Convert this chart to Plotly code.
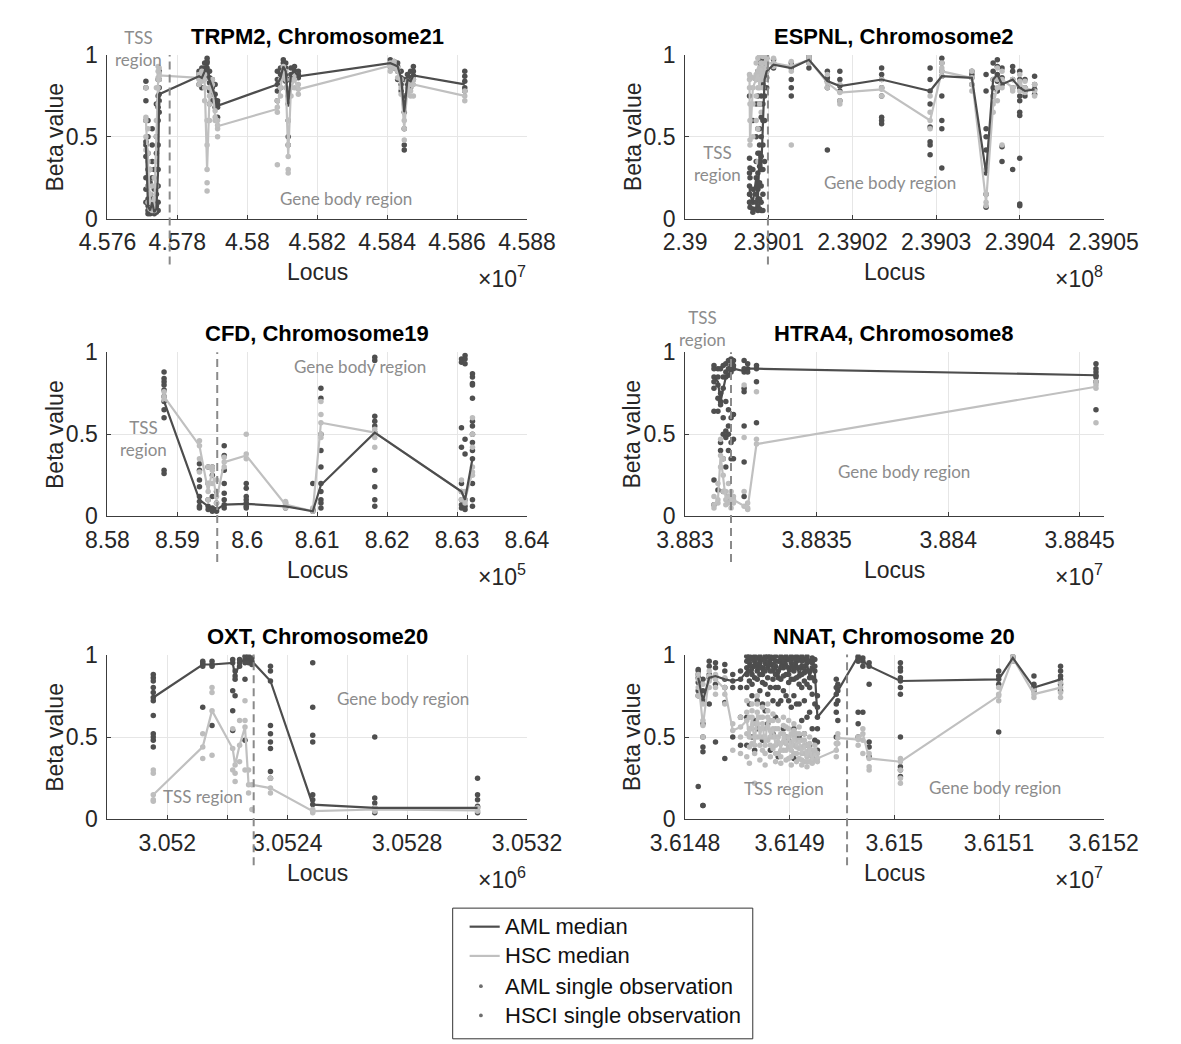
import plotly.graph_objects as go

# ---------------- DATA ----------------
# TRPM2, Chromosome21 (loci in bp)
trpm2_loci = [45771000, 45771600, 45772200, 45772800, 45773400, 45774000, 45774500, 45774800,
              45786200, 45787000, 45787800, 45788500, 45789200, 45790000, 45790800, 45791500,
              45808600, 45809500, 45810300, 45811000, 45811700, 45812500, 45813500, 45814600,
              45840900, 45842000, 45843000, 45844000, 45844900, 45845800, 45846700, 45847500,
              45862200]
trpm2_aml_median = [0.45, 0.08, 0.05, 0.1, 0.04, 0.06, 0.3, 0.76,
                    0.87, 0.86, 0.9, 0.95, 0.85, 0.8, 0.75, 0.69,
                    0.82, 0.86, 0.93, 0.9, 0.7, 0.88, 0.9, 0.87,
                    0.95, 0.94, 0.93, 0.86, 0.65, 0.85, 0.84, 0.875,
                    0.82]
trpm2_hsc_median = [0.6, 0.35, 0.1, 0.07, 0.08, 0.5, 0.85, 0.875,
                    0.86, 0.875, 0.85, 0.3, 0.75, 0.82, 0.62, 0.565,
                    0.67, 0.8, 0.9, 0.85, 0.38, 0.8, 0.85, 0.79,
                    0.93, 0.94, 0.9, 0.8, 0.55, 0.8, 0.78, 0.82,
                    0.75]
trpm2_aml_obs = [[0.84, 0.8, 0.72, 0.6, 0.47, 0.45, 0.38, 0.25, 0.18, 0.1],
                 [0.6, 0.5, 0.4, 0.3, 0.2, 0.12, 0.08, 0.05, 0.03],
                 [0.3, 0.22, 0.15, 0.1, 0.08, 0.05, 0.04, 0.03],
                 [0.55, 0.45, 0.35, 0.25, 0.12, 0.1, 0.06, 0.04],
                 [0.3, 0.18, 0.1, 0.08, 0.06, 0.04, 0.03],
                 [0.7, 0.5, 0.4, 0.3, 0.15, 0.08, 0.06, 0.04],
                 [0.85, 0.75, 0.68, 0.6, 0.45, 0.3, 0.2, 0.1, 0.05],
                 [0.9, 0.85, 0.8, 0.76, 0.72, 0.65],
                 [0.9, 0.88, 0.86, 0.82],
                 [0.92, 0.87, 0.85, 0.8],
                 [0.95, 0.92, 0.9, 0.86],
                 [0.98, 0.96, 0.95, 0.92, 0.88],
                 [0.9, 0.86, 0.83, 0.78, 0.7],
                 [0.85, 0.8, 0.76, 0.72],
                 [0.82, 0.76, 0.72, 0.68],
                 [0.72, 0.7, 0.68, 0.62],
                 [0.9, 0.85, 0.82, 0.78, 0.72],
                 [0.92, 0.88, 0.85, 0.8],
                 [0.97, 0.95, 0.93, 0.9, 0.86],
                 [0.95, 0.92, 0.88, 0.84],
                 [0.85, 0.75, 0.7, 0.6, 0.5, 0.45],
                 [0.92, 0.88, 0.85],
                 [0.93, 0.9, 0.87],
                 [0.9, 0.88, 0.86],
                 [0.97, 0.95, 0.93],
                 [0.96, 0.94, 0.92],
                 [0.95, 0.93, 0.9, 0.85],
                 [0.9, 0.86, 0.82, 0.78],
                 [0.85, 0.75, 0.65, 0.55, 0.45, 0.42],
                 [0.88, 0.85, 0.82],
                 [0.9, 0.86, 0.84, 0.8],
                 [0.93, 0.9, 0.875, 0.85],
                 [0.9, 0.87, 0.84, 0.8, 0.78]]
trpm2_hsc_obs = [[0.8, 0.62, 0.6, 0.5, 0.42],
                 [0.55, 0.4, 0.35, 0.2, 0.1],
                 [0.3, 0.15, 0.1, 0.06],
                 [0.2, 0.1, 0.07, 0.05],
                 [0.25, 0.12, 0.08, 0.05],
                 [0.8, 0.6, 0.5, 0.35, 0.2],
                 [0.93, 0.9, 0.86, 0.85, 0.8, 0.7],
                 [0.92, 0.89, 0.875, 0.85],
                 [0.88, 0.85, 0.82],
                 [0.9, 0.87, 0.84],
                 [0.88, 0.85, 0.8, 0.72],
                 [0.6, 0.45, 0.3, 0.22, 0.17],
                 [0.8, 0.75, 0.7, 0.6],
                 [0.85, 0.82, 0.78],
                 [0.66, 0.62, 0.6],
                 [0.6, 0.57, 0.55, 0.5],
                 [0.72, 0.68, 0.65, 0.33],
                 [0.85, 0.8, 0.75],
                 [0.93, 0.9, 0.86],
                 [0.9, 0.85, 0.8],
                 [0.6, 0.45, 0.38, 0.3, 0.28],
                 [0.85, 0.8, 0.75],
                 [0.88, 0.85, 0.8],
                 [0.82, 0.79, 0.76],
                 [0.95, 0.93, 0.9],
                 [0.96, 0.94, 0.92],
                 [0.92, 0.9, 0.86],
                 [0.85, 0.8, 0.76],
                 [0.7, 0.6, 0.55, 0.48],
                 [0.84, 0.8, 0.76],
                 [0.82, 0.78, 0.75],
                 [0.85, 0.82, 0.75],
                 [0.78, 0.75, 0.72]]

# ESPNL, Chromosome2
espnl_loci = [239007700, 239007760, 239008100, 239008500, 239008700, 239008900, 239009100,
              239009300, 239009500, 239009750,
              239010570, 239012690, 239014800, 239017000, 239018490, 239023480, 239029270,
              239030670, 239034260, 239035955, 239036800, 239037300, 239037860, 239039130,
              239039975, 239040600, 239041750]
espnl_aml_median = [0.2, 0.15, 0.1, 0.25, 0.12, 0.4, 0.3, 0.6, 0.85, 0.9,
                    0.94, 0.92, 0.97, 0.84, 0.81, 0.85, 0.78,
                    0.87, 0.86, 0.28, 0.85, 0.88, 0.82, 0.85,
                    0.8, 0.78, 0.79]
espnl_hsc_median = [0.85, 0.48, 0.8, 0.85, 0.88, 0.8, 0.92, 0.85, 0.9, 0.95,
                    0.95, 0.93, 0.97, 0.83, 0.77, 0.79, 0.6,
                    0.9, 0.86, 0.1, 0.7, 0.8, 0.85, 0.8,
                    0.82, 0.8, 0.78]
espnl_aml_obs = [[0.75, 0.37, 0.28, 0.2, 0.15, 0.1],
                 [0.31, 0.25, 0.15, 0.1, 0.07],
                 [0.6, 0.3, 0.18, 0.1, 0.06, 0.04],
                 [0.85, 0.7, 0.5, 0.35, 0.25, 0.15, 0.1, 0.06],
                 [0.9, 0.75, 0.55, 0.4, 0.28, 0.18, 0.12, 0.08, 0.05],
                 [0.95, 0.85, 0.7, 0.55, 0.45, 0.4, 0.32, 0.22, 0.12, 0.06],
                 [0.98, 0.88, 0.75, 0.62, 0.5, 0.38, 0.3, 0.2, 0.1, 0.05],
                 [0.96, 0.9, 0.82, 0.7, 0.6, 0.45, 0.3, 0.15, 0.05],
                 [0.98, 0.92, 0.88, 0.85, 0.75, 0.6, 0.35],
                 [0.98, 0.95, 0.9, 0.86, 0.8],
                 [0.97, 0.95, 0.94, 0.92],
                 [0.95, 0.93, 0.92, 0.85, 0.8, 0.75],
                 [0.99, 0.97, 0.95, 0.92],
                 [0.9, 0.86, 0.84, 0.8, 0.42],
                 [0.9, 0.85, 0.81, 0.78, 0.72],
                 [0.92, 0.88, 0.85, 0.8, 0.75, 0.62, 0.6, 0.58],
                 [0.92, 0.85, 0.78, 0.7, 0.56, 0.47, 0.45, 0.39],
                 [0.98, 0.95, 0.9, 0.87, 0.75, 0.6, 0.55, 0.31],
                 [0.9, 0.88, 0.86, 0.82],
                 [0.88, 0.78, 0.55, 0.5, 0.42, 0.28, 0.15, 0.07],
                 [0.95, 0.9, 0.85, 0.8, 0.75],
                 [0.97, 0.93, 0.88, 0.84, 0.78],
                 [0.92, 0.86, 0.82, 0.44, 0.35],
                 [0.93, 0.9, 0.85, 0.8, 0.3],
                 [0.9, 0.85, 0.8, 0.75, 0.72, 0.65, 0.63, 0.37, 0.09, 0.08],
                 [0.85, 0.8, 0.78, 0.75],
                 [0.87, 0.82, 0.79, 0.76]]
espnl_hsc_obs = [[0.88, 0.85, 0.8],
                 [0.87, 0.7, 0.6, 0.48, 0.45],
                 [0.86, 0.8, 0.7, 0.5],
                 [0.95, 0.88, 0.85, 0.75, 0.6],
                 [0.98, 0.9, 0.88, 0.8, 0.55, 0.35],
                 [1.0, 0.92, 0.85, 0.8, 0.7],
                 [1.0, 0.95, 0.92, 0.85, 0.65],
                 [0.99, 0.92, 0.85, 0.8],
                 [1.0, 0.95, 0.9, 0.85],
                 [0.99, 0.97, 0.95, 0.9],
                 [0.98, 0.95, 0.93],
                 [0.96, 0.93, 0.9, 0.45],
                 [0.99, 0.97, 0.95],
                 [0.88, 0.83, 0.8],
                 [0.82, 0.77, 0.72, 0.7],
                 [0.85, 0.8, 0.79, 0.75],
                 [0.75, 0.65, 0.6, 0.55],
                 [0.95, 0.92, 0.9, 0.87],
                 [0.9, 0.86, 0.82, 0.78],
                 [0.3, 0.15, 0.1, 0.08],
                 [0.85, 0.75, 0.7, 0.65],
                 [0.92, 0.85, 0.8, 0.72],
                 [0.9, 0.85, 0.8, 0.45],
                 [0.85, 0.8, 0.78],
                 [0.88, 0.84, 0.82, 0.78],
                 [0.84, 0.8, 0.77],
                 [0.82, 0.78, 0.75]]

# CFD, Chromosome19
cfd_loci = [858810, 859316, 859440, 859500, 859560, 859670, 859985,
            860547, 860937, 861053, 861823, 863063, 863114, 863220]
cfd_aml_median = [0.7, 0.1, 0.06, 0.05, 0.04, 0.07, 0.075, 0.06, 0.03, 0.19, 0.51, 0.15, 0.1, 0.35]
cfd_hsc_median = [0.73, 0.43, 0.15, 0.28, 0.1, 0.33, 0.37, 0.07, 0.03, 0.57, 0.51, 0.15, 0.1, 0.27]
cfd_aml_obs = [[0.88, 0.84, 0.82, 0.8, 0.77, 0.73, 0.7, 0.65, 0.6, 0.28, 0.26],
               [0.32, 0.28, 0.22, 0.18, 0.12, 0.09, 0.06, 0.05],
               [0.3, 0.2, 0.1, 0.06, 0.04],
               [0.3, 0.25, 0.12, 0.05, 0.03],
               [0.15, 0.08, 0.04, 0.03],
               [0.43, 0.37, 0.28, 0.2, 0.14, 0.1, 0.07, 0.05],
               [0.2, 0.17, 0.12, 0.1, 0.08, 0.06, 0.05],
               [0.08, 0.06, 0.05],
               [0.2, 0.04, 0.03],
               [0.78, 0.72, 0.5, 0.4, 0.3, 0.2, 0.15, 0.1, 0.08, 0.05],
               [0.97, 0.95, 0.61, 0.58, 0.55, 0.51, 0.28, 0.18, 0.1, 0.06],
               [0.96, 0.94, 0.54, 0.42, 0.2, 0.15, 0.1, 0.07, 0.05],
               [0.98, 0.96, 0.93, 0.47, 0.38, 0.1, 0.06, 0.04],
               [0.87, 0.85, 0.81, 0.8, 0.72, 0.58, 0.55, 0.5, 0.45, 0.4, 0.35, 0.2, 0.1, 0.06]]
cfd_hsc_obs = [[0.76, 0.73, 0.71],
               [0.46, 0.43, 0.35, 0.27],
               [0.3, 0.2, 0.15, 0.1],
               [0.3, 0.28, 0.2],
               [0.22, 0.12, 0.08],
               [0.36, 0.33, 0.3],
               [0.5, 0.38, 0.35],
               [0.09, 0.07, 0.05],
               [0.05, 0.03],
               [0.7, 0.62, 0.57, 0.5, 0.48],
               [0.53, 0.51, 0.48, 0.42],
               [0.22, 0.15, 0.1],
               [0.15, 0.1, 0.08],
               [0.6, 0.5, 0.42, 0.3, 0.27, 0.25]]

# HTRA4, Chromosome8
htra4_loci = [38831100, 38831250, 38831350, 38831450, 38831550, 38831650, 38831750,
              38831840, 38832245, 38832380, 38832715, 38845618]
htra4_aml_median = [0.85, 0.82, 0.7, 0.78, 0.85, 0.86, 0.88, 0.9, 0.885, 0.9, 0.9, 0.86]
htra4_hsc_median = [0.07, 0.1, 0.37, 0.25, 0.1, 0.12, 0.1, 0.1, 0.06, 0.05, 0.44, 0.79]
htra4_aml_obs = [[0.92, 0.9, 0.85, 0.82, 0.78, 0.64, 0.22, 0.07],
                 [0.9, 0.85, 0.8, 0.72, 0.64, 0.16],
                 [0.9, 0.75, 0.7, 0.68, 0.45, 0.4],
                 [0.92, 0.85, 0.78, 0.6, 0.5, 0.35, 0.15],
                 [0.93, 0.88, 0.85, 0.7, 0.52, 0.48, 0.3],
                 [0.95, 0.9, 0.86, 0.65, 0.55, 0.5, 0.4, 0.12],
                 [0.96, 0.92, 0.88, 0.6, 0.45, 0.35, 0.1],
                 [0.95, 0.92, 0.9, 0.62, 0.47, 0.35],
                 [0.95, 0.9, 0.88, 0.78, 0.76, 0.55, 0.33, 0.12],
                 [0.93, 0.9, 0.88],
                 [0.92, 0.9, 0.82, 0.57],
                 [0.93, 0.9, 0.88, 0.86, 0.85, 0.82, 0.65]]
htra4_hsc_obs = [[0.12, 0.07, 0.05],
                 [0.2, 0.1, 0.08],
                 [0.47, 0.37, 0.3],
                 [0.35, 0.25, 0.15],
                 [0.15, 0.1, 0.07],
                 [0.2, 0.12, 0.08],
                 [0.15, 0.1, 0.05],
                 [0.12, 0.1, 0.08],
                 [0.8, 0.48, 0.15, 0.06],
                 [0.08, 0.05, 0.04],
                 [0.76, 0.47, 0.44],
                 [0.82, 0.8, 0.78, 0.57]]

# OXT, Chromosome20
oxt_loci = [3051953, 3052118, 3052149, 3052218, 3052226, 3052241, 3052259,
            3052271, 3052282, 3052344, 3052485, 3052692, 3053035]
oxt_aml_median = [0.74, 0.94, 0.94, 0.95, 0.87, 0.95, 0.97, 0.97, 0.96, 0.84, 0.09, 0.07, 0.07]
oxt_hsc_median = [0.15, 0.44, 0.66, 0.43, 0.33, 0.45, 0.56, 0.21, 0.21, 0.19, 0.05, 0.06, 0.055]
oxt_aml_obs = [[0.88, 0.86, 0.84, 0.8, 0.77, 0.74, 0.72, 0.63, 0.52, 0.5, 0.48, 0.44],
               [0.96, 0.95, 0.94, 0.93, 0.68],
               [0.96, 0.94, 0.93, 0.57],
               [0.97, 0.95, 0.78, 0.66, 0.54],
               [0.9, 0.87, 0.85, 0.75],
               [0.97, 0.95, 0.93],
               [0.99, 0.97, 0.95, 0.85, 0.48],
               [0.99, 0.97, 0.95],
               [0.98, 0.96, 0.94],
               [0.93, 0.9, 0.84, 0.57, 0.52, 0.47, 0.43, 0.29, 0.25],
               [0.95, 0.68, 0.51, 0.47, 0.15, 0.12, 0.09],
               [0.5, 0.13, 0.1, 0.07, 0.04],
               [0.25, 0.15, 0.12, 0.08, 0.07, 0.04]]
oxt_hsc_obs = [[0.3, 0.28, 0.15, 0.12, 0.11],
               [0.52, 0.44, 0.37],
               [0.8, 0.77, 0.66, 0.39],
               [0.55, 0.43, 0.3],
               [0.33, 0.28, 0.23],
               [0.6, 0.45, 0.35],
               [0.72, 0.6, 0.56, 0.3],
               [0.3, 0.21, 0.16],
               [0.21, 0.06],
               [0.25, 0.19, 0.16],
               [0.06, 0.05, 0.04],
               [0.07, 0.06, 0.05],
               [0.07, 0.055, 0.05]]

# NNAT, Chromosome 20
nnat_loci = [36148126, 36148171, 36148231, 36148291, 36148380, 36148456, 36148530,
             36148590, 36148615, 36148640, 36148665, 36148690, 36148715, 36148740,
             36148765, 36148790, 36148815, 36148840, 36148865, 36148890, 36148915,
             36148940, 36148965, 36148990, 36149015, 36149040, 36149065, 36149090,
             36149115, 36149140, 36149165, 36149190, 36149215, 36149240, 36149265,
             36149445, 36149460, 36149654, 36149699, 36149759, 36150058, 36150997,
             36151132, 36151334, 36151588]
nnat_aml_median = [0.86, 0.72, 0.86, 0.87, 0.85, 0.84, 0.85,
                   0.9, 0.95, 0.88, 0.96, 0.9, 0.97, 0.88,
                   0.95, 0.92, 0.97, 0.9, 0.93, 0.86, 0.96,
                   0.92, 0.97, 0.88, 0.95, 0.9, 0.96, 0.87,
                   0.93, 0.89, 0.95, 0.86, 0.92, 0.9, 0.62,
                   0.76, 0.78, 0.99, 0.96, 0.93, 0.84, 0.85,
                   0.98, 0.8, 0.85]
nnat_hsc_median = [0.85, 0.57, 0.87, 0.85, 0.79, 0.54, 0.56,
                   0.6, 0.5, 0.62, 0.45, 0.65, 0.5, 0.58,
                   0.45, 0.62, 0.5, 0.55, 0.45, 0.5, 0.42,
                   0.52, 0.46, 0.5, 0.42, 0.5, 0.44, 0.48,
                   0.4, 0.45, 0.38, 0.43, 0.36, 0.4, 0.37,
                   0.42, 0.495, 0.485, 0.52, 0.37, 0.35, 0.75,
                   0.98, 0.76, 0.8]
nnat_aml_obs = [[0.91, 0.9, 0.88, 0.86, 0.83, 0.78, 0.75, 0.2],
                [0.85, 0.78, 0.72, 0.58, 0.5, 0.44, 0.41, 0.085, 0.085],
                [0.96, 0.93, 0.88, 0.86, 0.7],
                [0.95, 0.92, 0.87, 0.82, 0.47],
                [0.94, 0.9, 0.85, 0.8, 0.71, 0.37],
                [0.88, 0.84, 0.8, 0.5],
                [0.9, 0.85, 0.8, 0.62, 0.45],
                [0.99, 0.96, 0.92, 0.88, 0.8, 0.62, 0.45],
                [0.99, 0.97, 0.95, 0.9, 0.84, 0.7],
                [0.98, 0.93, 0.88, 0.82, 0.75, 0.5],
                [0.99, 0.98, 0.96, 0.93, 0.86, 0.6, 0.42],
                [0.98, 0.94, 0.9, 0.85, 0.72, 0.55],
                [0.99, 0.97, 0.95, 0.92, 0.88, 0.78],
                [0.97, 0.92, 0.88, 0.83, 0.7, 0.48],
                [0.99, 0.97, 0.95, 0.9, 0.82, 0.66],
                [0.99, 0.95, 0.92, 0.86, 0.76, 0.58],
                [0.99, 0.98, 0.97, 0.94, 0.9, 0.8, 0.42],
                [0.98, 0.94, 0.9, 0.85, 0.72, 0.52],
                [0.99, 0.96, 0.93, 0.88, 0.8, 0.62],
                [0.96, 0.9, 0.86, 0.8, 0.7, 0.38],
                [0.99, 0.98, 0.96, 0.92, 0.85, 0.72],
                [0.98, 0.95, 0.92, 0.87, 0.78, 0.55],
                [0.99, 0.98, 0.97, 0.93, 0.88, 0.75, 0.5],
                [0.97, 0.92, 0.88, 0.83, 0.72, 0.48],
                [0.99, 0.97, 0.95, 0.91, 0.85, 0.68],
                [0.98, 0.94, 0.9, 0.85, 0.75, 0.55, 0.37],
                [0.99, 0.97, 0.96, 0.92, 0.86, 0.7],
                [0.97, 0.92, 0.87, 0.82, 0.7, 0.5],
                [0.99, 0.96, 0.93, 0.88, 0.8, 0.6],
                [0.97, 0.93, 0.89, 0.84, 0.72, 0.52],
                [0.99, 0.97, 0.95, 0.9, 0.82, 0.62, 0.45],
                [0.96, 0.9, 0.86, 0.8, 0.65, 0.45],
                [0.98, 0.95, 0.92, 0.86, 0.76, 0.55, 0.38],
                [0.97, 0.93, 0.9, 0.84, 0.7, 0.48],
                [0.75, 0.68, 0.62, 0.55, 0.47, 0.42],
                [0.85, 0.8, 0.76, 0.7, 0.65, 0.5],
                [0.82, 0.78, 0.72, 0.6],
                [0.99, 0.98, 0.96, 0.65, 0.58, 0.5],
                [0.98, 0.96, 0.93, 0.65],
                [0.95, 0.93, 0.82, 0.47, 0.44, 0.38],
                [0.95, 0.92, 0.9, 0.86, 0.84, 0.8, 0.76, 0.5, 0.32, 0.3, 0.26],
                [0.9, 0.87, 0.85, 0.82, 0.53],
                [0.99, 0.98, 0.96],
                [0.87, 0.82, 0.8, 0.78],
                [0.93, 0.9, 0.87, 0.85, 0.82, 0.78]]
nnat_hsc_obs = [[0.88, 0.85, 0.8, 0.75],
                [0.82, 0.7, 0.6, 0.57, 0.5],
                [0.9, 0.87, 0.84, 0.8],
                [0.88, 0.85, 0.8, 0.76],
                [0.86, 0.8, 0.76, 0.7],
                [0.58, 0.54, 0.42],
                [0.62, 0.56, 0.5, 0.4],
                [0.72, 0.65, 0.6, 0.52, 0.38],
                [0.62, 0.55, 0.5, 0.44, 0.34],
                [0.7, 0.66, 0.62, 0.55, 0.46],
                [0.58, 0.5, 0.45, 0.4, 0.22],
                [0.75, 0.7, 0.65, 0.58, 0.5],
                [0.62, 0.55, 0.5, 0.45, 0.36],
                [0.68, 0.62, 0.58, 0.5, 0.42],
                [0.55, 0.5, 0.45, 0.4, 0.33],
                [0.7, 0.66, 0.62, 0.56, 0.48],
                [0.6, 0.54, 0.5, 0.45, 0.38],
                [0.64, 0.6, 0.55, 0.5, 0.43],
                [0.55, 0.5, 0.45, 0.4, 0.35],
                [0.6, 0.55, 0.5, 0.46, 0.4],
                [0.52, 0.46, 0.42, 0.38, 0.34],
                [0.62, 0.57, 0.52, 0.47, 0.42],
                [0.56, 0.5, 0.46, 0.42, 0.36],
                [0.6, 0.55, 0.5, 0.44, 0.37],
                [0.52, 0.47, 0.42, 0.38, 0.33],
                [0.58, 0.54, 0.5, 0.45, 0.4],
                [0.52, 0.48, 0.44, 0.4, 0.35],
                [0.56, 0.52, 0.48, 0.43, 0.37],
                [0.48, 0.44, 0.4, 0.36, 0.33],
                [0.52, 0.48, 0.45, 0.4, 0.35],
                [0.45, 0.41, 0.38, 0.35, 0.32],
                [0.5, 0.46, 0.43, 0.39, 0.35],
                [0.42, 0.39, 0.36, 0.34],
                [0.45, 0.42, 0.4, 0.36],
                [0.4, 0.37, 0.35],
                [0.46, 0.42, 0.38],
                [0.52, 0.495, 0.46],
                [0.5, 0.485, 0.45],
                [0.55, 0.52, 0.48, 0.4],
                [0.4, 0.37, 0.32, 0.3],
                [0.37, 0.35, 0.3, 0.25, 0.22],
                [0.8, 0.76, 0.75, 0.72],
                [0.99, 0.98, 0.96],
                [0.79, 0.76, 0.74],
                [0.83, 0.8, 0.77, 0.74]]

# Panel metadata
titles = ["TRPM2, Chromosome21", "ESPNL, Chromosome2", "CFD, Chromosome19",
          "HTRA4, Chromosome8", "OXT, Chromosome20", "NNAT, Chromosome 20"]
exponents = [7, 8, 5, 7, 6, 7]
tss_boundaries = [45777800, 239009900, 859570, 38831747, 3052288, 36149548]
x_ranges = [[4.576, 4.588], [2.39, 2.3905], [8.58, 8.64], [3.883, 3.884591],
            [3.0518, 3.0532], [3.6148, 3.6152]]
x_tickvals = [[4.576, 4.578, 4.58, 4.582, 4.584, 4.586, 4.588],
              [2.39, 2.3901, 2.3902, 2.3903, 2.3904, 2.3905],
              [8.58, 8.59, 8.6, 8.61, 8.62, 8.63, 8.64],
              [3.883, 3.8835, 3.884, 3.8845],
              [3.052, 3.0524, 3.0528, 3.0532],
              [3.6148, 3.6149, 3.615, 3.6151, 3.6152]]
x_ticktext = [["4.576", "4.578", "4.58", "4.582", "4.584", "4.586", "4.588"],
              ["2.39", "2.3901", "2.3902", "2.3903", "2.3904", "2.3905"],
              ["8.58", "8.59", "8.6", "8.61", "8.62", "8.63", "8.64"],
              ["3.883", "3.8835", "3.884", "3.8845"],
              ["3.052", "3.0524", "3.0528", "3.0532"],
              ["3.6148", "3.6149", "3.615", "3.6151", "3.6152"]]
x_minor_grid = [None, None, None, None, [3.0518, 3.0522, 3.0526, 3.053], None]
y_tickvals = [0, 0.5, 1]
y_ticktext = ["0", "0.5", "1"]

panels = [
    (trpm2_loci, trpm2_aml_median, trpm2_hsc_median, trpm2_aml_obs, trpm2_hsc_obs),
    (espnl_loci, espnl_aml_median, espnl_hsc_median, espnl_aml_obs, espnl_hsc_obs),
    (cfd_loci, cfd_aml_median, cfd_hsc_median, cfd_aml_obs, cfd_hsc_obs),
    (htra4_loci, htra4_aml_median, htra4_hsc_median, htra4_aml_obs, htra4_hsc_obs),
    (oxt_loci, oxt_aml_median, oxt_hsc_median, oxt_aml_obs, oxt_hsc_obs),
    (nnat_loci, nnat_aml_median, nnat_hsc_median, nnat_aml_obs, nnat_hsc_obs),
]

# annotation texts (label, x px, y px) per panel
region_labels = [
    [("TSS<br>region", 110, 36), ("Gene body region", 331, 190)],
    [("TSS<br>region", 726, 154), ("Gene body region", 909, 174)],
    [("TSS<br>region", 115, 436), ("Gene body region", 346, 363)],
    [("TSS<br>region", 710, 324), ("Gene body region", 924, 470)],
    [("TSS region", 179, 803), ("Gene body region", 391, 703)],
    [("TSS region", 796, 795), ("Gene body region", 1020, 794)],
]

legend_labels = ["AML median", "HSC median", "AML single observation", "HSCI single observation"]

# ---------------- LAYOUT ----------------
W, H = 1181, 1044
col_px = [(77, 523), (691, 1136)]
row_px = [(43, 211), (348, 516), (658, 827)]


def fx(px):
    return px / W


def fy(py):
    return 1 - py / H


AML_DOT = "#4f4f4f"
HSC_DOT = "#bdbdbd"
AML_LINE = "#4d4d4d"
HSC_LINE = "#c0c0c0"
FONT = "Liberation Sans, Arial, sans-serif"
TXT = "#262626"
LABEL_FONT = "Lato, Open Sans, sans-serif"
LABEL_COLOR = "#8c8c8c"
GRID = "#e6e6e6"
AXIS = "#3c3c3c"

fig = go.Figure()
annotations = []
shapes = []
layout_axes = {}

for i, (loci, aml_med, hsc_med, aml_obs, hsc_obs) in enumerate(panels):
    k = i + 1
    r, c = divmod(i, 2)
    xa = "x" if k == 1 else f"x{k}"
    ya = "y" if k == 1 else f"y{k}"
    scale = 10 ** exponents[i]
    xs = [v / scale for v in loci]

    ox_a, oy_a, ox_h, oy_h = [], [], [], []
    for xv, obs in zip(xs, aml_obs):
        for o in obs:
            ox_a.append(xv)
            oy_a.append(o)
    for xv, obs in zip(xs, hsc_obs):
        for o in obs:
            ox_h.append(xv)
            oy_h.append(o)

    fig.add_trace(go.Scatter(x=ox_a, y=oy_a, mode="markers", xaxis=xa, yaxis=ya,
                             marker=dict(color=AML_DOT, size=5.5), showlegend=False,
                             name="AML single observation"))
    fig.add_trace(go.Scatter(x=ox_h, y=oy_h, mode="markers", xaxis=xa, yaxis=ya,
                             marker=dict(color=HSC_DOT, size=5.5), showlegend=False,
                             name="HSCI single observation"))
    fig.add_trace(go.Scatter(x=xs, y=hsc_med, mode="lines", xaxis=xa, yaxis=ya,
                             line=dict(color=HSC_LINE, width=2.2), showlegend=False,
                             name="HSC median"))
    fig.add_trace(go.Scatter(x=xs, y=aml_med, mode="lines", xaxis=xa, yaxis=ya,
                             line=dict(color=AML_LINE, width=2.2), showlegend=False,
                             name="AML median"))

    x0, x1 = col_px[c]
    y0, y1 = row_px[r]
    axis_common = dict(showgrid=True, gridcolor=GRID, gridwidth=1,
                       showline=True, linecolor=AXIS, linewidth=1,
                       ticks="inside", ticklen=4, tickcolor=AXIS,
                       tickfont=dict(family=FONT, size=23, color=TXT),
                       zeroline=False, mirror=False, fixedrange=True)
    xdict = dict(domain=[fx(x0), fx(x1)], anchor=ya, range=x_ranges[i],
                 tickmode="array", tickvals=x_tickvals[i], ticktext=x_ticktext[i],
                 ticklabelstandoff=3, **axis_common)
    if x_minor_grid[i] is not None:
        xdict["minor"] = dict(tickmode="array", tickvals=x_minor_grid[i], showgrid=True,
                              gridcolor=GRID, gridwidth=1, ticks="inside", ticklen=4,
                              tickcolor=AXIS)
    layout_axes["xaxis" if k == 1 else f"xaxis{k}"] = xdict
    layout_axes["yaxis" if k == 1 else f"yaxis{k}"] = dict(
        domain=[fy(y1), fy(y0)], anchor=xa, range=[0, 1],
        tickmode="array", tickvals=y_tickvals, ticktext=y_ticktext,
        ticklabelstandoff=4, **axis_common)

    # title
    annotations.append(dict(text=f"<b>{titles[i]}</b>", x=fx((x0 + x1) / 2), y=fy(y0 - 19),
                            xref="paper", yref="paper", showarrow=False,
                            xanchor="center", yanchor="middle",
                            font=dict(family=FONT, size=22, color="#000000")))
    # axis labels
    annotations.append(dict(text="Locus", x=fx((x0 + x1) / 2), y=fy(y1 + 55),
                            xref="paper", yref="paper", showarrow=False,
                            xanchor="center", yanchor="middle",
                            font=dict(family=FONT, size=23, color=TXT)))
    annotations.append(dict(text="Beta value", x=fx(x0 - 56), y=fy((y0 + y1) / 2),
                            xref="paper", yref="paper", showarrow=False, textangle=-90,
                            xanchor="center", yanchor="middle",
                            font=dict(family=FONT, size=23, color=TXT)))
    annotations.append(dict(text=f"\u00d710<sup>{exponents[i]}</sup>", x=fx(x1 + 1), y=fy(y1 + 60),
                            xref="paper", yref="paper", showarrow=False,
                            xanchor="right", yanchor="middle",
                            font=dict(family=FONT, size=23, color=TXT)))
    # region labels
    for txt, px, py in region_labels[i]:
        annotations.append(dict(text=txt, x=fx(px), y=fy(py), xref="paper", yref="paper",
                                showarrow=False, xanchor="center", yanchor="middle",
                                font=dict(family=LABEL_FONT, size=17, color=LABEL_COLOR)))
    # TSS boundary dashed line
    ext = 47.0 / (y1 - y0)
    shapes.append(dict(type="line", xref=xa, yref=f"{ya} domain",
                       x0=tss_boundaries[i] / scale, x1=tss_boundaries[i] / scale,
                       y0=-ext, y1=1, line=dict(color="#8a8a8a", width=2, dash="8px,5px")))

# manual legend
shapes.append(dict(type="rect", xref="paper", yref="paper", x0=fx(444), x1=fx(763),
                   y0=fy(1052), y1=fy(918), line=dict(color="#333333", width=1),
                   fillcolor="white", layer="above"))
legend_rows = [937, 967, 998, 1028]
shapes.append(dict(type="line", xref="paper", yref="paper", x0=fx(462), x1=fx(494),
                   y0=fy(937), y1=fy(937), line=dict(color=AML_LINE, width=2.2)))
shapes.append(dict(type="line", xref="paper", yref="paper", x0=fx(462), x1=fx(494),
                   y0=fy(967), y1=fy(967), line=dict(color=HSC_LINE, width=2.2)))
for ry in legend_rows[2:]:
    shapes.append(dict(type="circle", xref="paper", yref="paper", x0=fx(472), x1=fx(476),
                       y0=fy(ry + 2), y1=fy(ry - 2), fillcolor="#6e6e6e",
                       line=dict(color="#6e6e6e", width=0)))
for lbl, ry in zip(legend_labels, legend_rows):
    annotations.append(dict(text=lbl, x=fx(497), y=fy(ry), xref="paper", yref="paper",
                            showarrow=False, xanchor="left", yanchor="middle",
                            font=dict(family=FONT, size=22, color="#111111")))

fig.update_layout(width=W, height=H, margin=dict(l=0, r=0, t=0, b=0),
                  paper_bgcolor="white", plot_bgcolor="white",
                  showlegend=False, annotations=annotations, shapes=shapes,
                  **layout_axes)

fig.write_html("out.html")
